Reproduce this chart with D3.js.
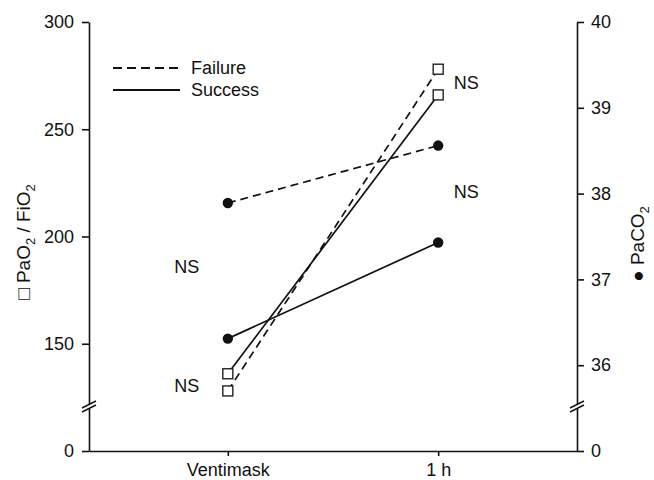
<!DOCTYPE html>
<html>
<head>
<meta charset="utf-8">
<script src="https://cdn.jsdelivr.net/npm/d3@7"></script>
<style>
body { margin: 0; background: #fff; }
text { font-family: "Liberation Sans", Arial, Helvetica, sans-serif; fill: #111; }
</style>
</head>
<body>
<div id="chart"></div>
<script>
// data
var categories = ["Ventimask", "1 h"];
var groups = ["Failure", "Success"];
var pao2Failure = [128, 278];
var pao2Success = [136, 266];
var paco2Failure = [37.89, 38.56];
var paco2Success = [36.31, 37.43];
var leftTicks = [150, 200, 250, 300];
var rightTicks = [36, 37, 38, 39, 40];
// bottom of the unbroken part of each axis, shown as "0"
var leftBase = 100;
var rightBase = 35;
// "NS" notes: category, axis, value
var notesCat = ["Ventimask", "Ventimask", "1 h", "1 h"];
var notesAxis = ["right", "left", "left", "right"];
var notesVal = [37.15, 130.4, 272, 38.02];

var W = 654, H = 480;
var margin = {top: 22, right: 77, bottom: 29, left: 89},
    width = W - margin.left - margin.right,
    height = H - margin.top - margin.bottom;

var svg = d3.select("#chart").append("svg")
    .attr("width", W)
    .attr("height", H);
var g = svg.append("g")
    .attr("transform", "translate(" + margin.left + "," + margin.top + ")");

var x = d3.scalePoint().domain(categories).range([0, width]).padding(0.66);
var yL = d3.scaleLinear().domain([leftBase, 300]).range([height, 0]);
var yR = d3.scaleLinear().domain([rightBase, 40]).range([height, 0]);

// Axes
var xAxis = d3.axisBottom(x).tickSize(5).tickSizeOuter(0);
var lAxis = d3.axisLeft(yL).tickValues([leftBase].concat(leftTicks))
    .tickFormat(function(d) { return d === leftBase ? "0" : d; })
    .tickSize(7).tickPadding(8).tickSizeOuter(0);
var rAxis = d3.axisRight(yR).tickValues([rightBase].concat(rightTicks))
    .tickFormat(function(d) { return d === rightBase ? "0" : d; })
    .tickSize(7).tickPadding(7).tickSizeOuter(0);

var xg = g.append("g").attr("transform", "translate(0," + height + ")").call(xAxis);
var lg = g.append("g").call(lAxis);
var rg = g.append("g").attr("transform", "translate(" + width + ",0)").call(rAxis);

[xg, lg, rg].forEach(function(a) {
    a.selectAll("path, line").style("stroke", "#111").style("stroke-width", 1.6);
    a.selectAll("text").style("font-size", "18px").style("fill", "#111")
        .style("font-family", "'Liberation Sans', Arial, Helvetica, sans-serif");
});
xg.selectAll("text").attr("y", 12);

// Axis breaks
function axisBreak(cx) {
    var by = height - 45;
    var bg = g.append("g").attr("transform", "translate(" + cx + "," + by + ")");
    bg.append("polygon")
        .attr("points", "-7,2 7,-5 7,-1 -7,6")
        .style("fill", "#fff");
    bg.append("line").attr("x1", -7).attr("y1", 2).attr("x2", 7).attr("y2", -5)
        .style("stroke", "#111").style("stroke-width", 1.4);
    bg.append("line").attr("x1", -7).attr("y1", 6).attr("x2", 7).attr("y2", -1)
        .style("stroke", "#111").style("stroke-width", 1.4);
}
axisBreak(0);
axisBreak(width);

// Lines
var series = [
    {group: "Failure", scale: yL, values: pao2Failure, marker: "square"},
    {group: "Success", scale: yL, values: pao2Success, marker: "square"},
    {group: "Failure", scale: yR, values: paco2Failure, marker: "circle"},
    {group: "Success", scale: yR, values: paco2Success, marker: "circle"}
];

series.forEach(function(s) {
    var line = d3.line()
        .x(function(d, i) { return x(categories[i]); })
        .y(function(d) { return s.scale(d); });
    g.append("path")
        .datum(s.values)
        .attr("d", line)
        .style("fill", "none")
        .style("stroke", "#111")
        .style("stroke-width", 1.7)
        .style("stroke-dasharray", s.group === "Failure" ? "8,5" : null);
});

// Markers
series.forEach(function(s) {
    var mg = g.append("g");
    if (s.marker === "square") {
        mg.selectAll("rect").data(s.values).enter().append("rect")
            .attr("x", function(d, i) { return x(categories[i]) - 5; })
            .attr("y", function(d) { return s.scale(d) - 5; })
            .attr("width", 10).attr("height", 10)
            .style("fill", "#fff").style("stroke", "#111").style("stroke-width", 1.3);
    } else {
        mg.selectAll("circle").data(s.values).enter().append("circle")
            .attr("cx", function(d, i) { return x(categories[i]); })
            .attr("cy", function(d) { return s.scale(d); })
            .attr("r", 5.2)
            .style("fill", "#111");
    }
});

// NS notes
notesCat.forEach(function(c, i) {
    var sc = notesAxis[i] === "left" ? yL : yR;
    var dx = c === categories[0] ? -41 : 28;
    g.append("text")
        .attr("x", x(c) + dx)
        .attr("y", sc(notesVal[i]))
        .attr("dy", "0.36em")
        .attr("text-anchor", "middle")
        .style("font-size", "18px")
        .text("NS");
});

// Legend
var leg = g.append("g").attr("transform", "translate(24,46)");
groups.forEach(function(name, i) {
    leg.append("line")
        .attr("x1", 0).attr("x2", 67)
        .attr("y1", i * 22).attr("y2", i * 22)
        .style("stroke", "#111").style("stroke-width", 1.8)
        .style("stroke-dasharray", name === "Failure" ? "9,5" : null);
    leg.append("text")
        .attr("x", 78).attr("y", i * 22).attr("dy", "0.36em")
        .style("font-size", "18px")
        .text(name);
});

// Axis titles
var lt = svg.append("text")
    .attr("transform", "translate(30," + 242 + ") rotate(-90)")
    .attr("text-anchor", "middle")
    .style("font-size", "19px");
lt.append("tspan").text("\u25A1 PaO");
lt.append("tspan").attr("dy", 5).style("font-size", "13px").text("2");
lt.append("tspan").attr("dy", -5).text(" / FiO");
lt.append("tspan").attr("dy", 5).style("font-size", "13px").text("2");

var rt = svg.append("text")
    .attr("transform", "translate(644," + 244 + ") rotate(-90)")
    .attr("text-anchor", "middle")
    .style("font-size", "19px");
rt.append("tspan").text("\u25CF PaCO");
rt.append("tspan").attr("dy", 5).style("font-size", "13px").text("2");
</script>
</body>
</html>
